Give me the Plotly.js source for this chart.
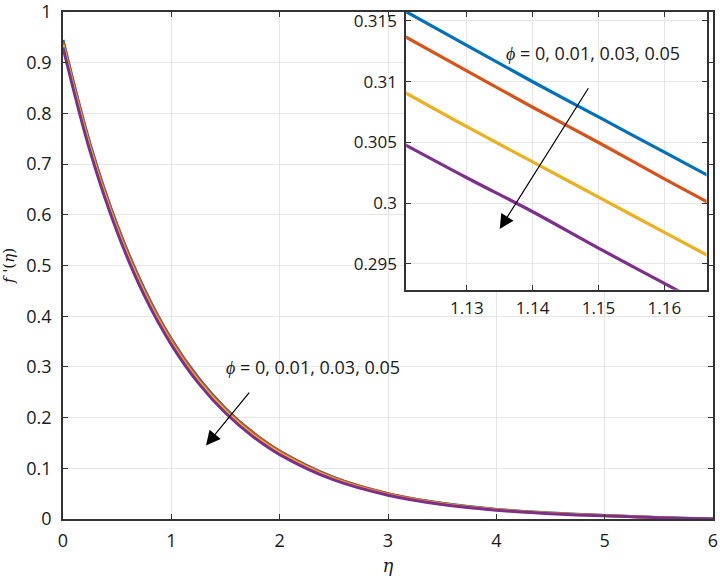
<!DOCTYPE html>
<html>
<head>
<meta charset="utf-8">
<script src="https://cdn.plot.ly/plotly-3.0.1.min.js"></script>
<style>body{margin:0;background:#fff}</style>
</head>
<body>
<div id="chart" style="width:720px;height:583px"></div>
<script>
// eta values
eta = [0, 0.25, 0.5, 0.75, 1.0, 1.25, 1.5, 1.75, 2.0, 2.5, 3.0, 3.5, 4.0, 4.5, 5.0, 5.5, 6.0];
phi0  = [0.945, 0.740, 0.580, 0.454, 0.355, 0.278, 0.218, 0.171, 0.134, 0.082, 0.050, 0.031, 0.019, 0.0116, 0.0071, 0.0028, 0];
phi01 = [0.940, 0.736, 0.577, 0.451, 0.353, 0.276, 0.216, 0.170, 0.133, 0.081, 0.050, 0.0305, 0.0188, 0.0114, 0.0070, 0.0027, 0];
phi03 = [0.935, 0.731, 0.571, 0.446, 0.348, 0.272, 0.213, 0.166, 0.130, 0.079, 0.048, 0.0296, 0.018, 0.011, 0.0067, 0.0026, 0];
phi05 = [0.930, 0.725, 0.566, 0.441, 0.344, 0.268, 0.209, 0.163, 0.127, 0.077, 0.047, 0.0286, 0.0174, 0.0106, 0.0064, 0.0025, 0];
mainTicksX = [0, 1, 2, 3, 4, 5, 6];
mainTicksY = [0, 0.1, 0.2, 0.3, 0.4, 0.5, 0.6, 0.7, 0.8, 0.9, 1];
mainLabelsY = ['0', '0.1', '0.2', '0.3', '0.4', '0.5', '0.6', '0.7', '0.8', '0.9', '1'];

// zoomed inset values
etaZoom = [1.12, 1.13, 1.14, 1.15, 1.16, 1.17];
zoom0  = [0.3160, 0.3130, 0.3100, 0.3071, 0.3042, 0.3013];
zoom01 = [0.3139, 0.3109, 0.3079, 0.3050, 0.3020, 0.2991];
zoom03 = [0.3093, 0.3063, 0.3034, 0.3005, 0.2976, 0.2947];
zoom05 = [0.3050, 0.3021, 0.2993, 0.2963, 0.2934, 0.2905];
zoomTicksX = [1.13, 1.14, 1.15, 1.16];
zoomLabelsX = ['1.13', '1.14', '1.15', '1.16'];
zoomTicksY = [0.295, 0.3, 0.305, 0.31, 0.315];
zoomLabelsY = ['0.295', '0.3', '0.305', '0.31', '0.315'];

colors = ['#0072BD', '#D95319', '#EDB120', '#7E2F8E'];
phiLabel = '<i>ϕ</i> = 0, 0.01, 0.03, 0.05';

function makeTrace(x, y, c, ax, w){
    return {
        x: x, y: y,
        xaxis: ax == 2 ? 'x2' : 'x',
        yaxis: ax == 2 ? 'y2' : 'y',
        type: 'scatter', mode: 'lines',
        line: {color: c, width: w, shape: 'spline'},
        showlegend: false, hoverinfo: 'skip'
    };
}

function makeChart(){
    var mainY = [phi0, phi01, phi03, phi05];
    var zoomY = [zoom0, zoom01, zoom03, zoom05];
    var data = [];
    for(var i = 0; i < 4; i++){
        data.push(makeTrace(eta, mainY[i], colors[i], 1, 3));
    }
    for(var i = 0; i < 4; i++){
        data.push(makeTrace(etaZoom, zoomY[i], colors[i], 2, 3.2));
    }
    var axisStyle = {
        showgrid: true,
        gridcolor: '#e6e6e6',
        gridwidth: 1,
        zeroline: false,
        showline: true,
        mirror: 'ticks',
        linecolor: '#333333',
        linewidth: 1.5,
        ticks: 'inside',
        ticklen: 5,
        tickcolor: '#333333',
        ticklabeloverflow: 'allow',
        tickfont: {family: 'Open Sans', size: 18, color: '#1a1a1a'}
    };
    var layout = {
        width: 720, height: 583,
        margin: {l: 63, r: 7, t: 12, b: 64},
        paper_bgcolor: '#ffffff',
        plot_bgcolor: '#ffffff',
        xaxis: Object.assign({}, axisStyle, {
            domain: [0, 1], range: [0, 6],
            tickvals: mainTicksX, ticklabelstandoff: 5,
            title: {text: '<i>η</i>', font: {family: 'DejaVu Serif', size: 18, color: '#1a1a1a'}, standoff: 8}
        }),
        yaxis: Object.assign({}, axisStyle, {
            domain: [0, 1], range: [0, 1],
            tickvals: mainTicksY, ticktext: mainLabelsY, ticklabelstandoff: 6,
            title: {text: "<i>f</i> '(<i>η</i>)", font: {family: 'DejaVu Serif', size: 15, color: '#1a1a1a'}, standoff: 8}
        }),
        xaxis2: Object.assign({}, axisStyle, {
            anchor: 'y2', domain: [0.528, 0.99], range: [1.1208, 1.1664],
            tickvals: zoomTicksX, ticktext: zoomLabelsX, ticklabelstandoff: 2,
            tickfont: {family: 'Open Sans', size: 17, color: '#1a1a1a'}
        }),
        yaxis2: Object.assign({}, axisStyle, {
            anchor: 'x2', domain: [0.452, 1.0], range: [0.29287, 0.31574],
            tickvals: zoomTicksY, ticktext: zoomLabelsY, ticklabelstandoff: 4,
            tickfont: {family: 'Open Sans', size: 17, color: '#1a1a1a'}
        }),
        annotations: [
            {x: 2.31, y: 0.299, xref: 'x', yref: 'y', text: phiLabel, showarrow: false,
             font: {family: 'Open Sans', size: 18, color: '#1a1a1a'}},
            {x: 1.32, y: 0.145, ax: 1.73, ay: 0.252, xref: 'x', yref: 'y', axref: 'x', ayref: 'y',
             text: '', showarrow: true, arrowhead: 2, arrowsize: 2.4, arrowwidth: 1.2, arrowcolor: '#000'},
            {x: 1.1491, y: 0.31238, xref: 'x2', yref: 'y2', text: phiLabel, showarrow: false,
             font: {family: 'Open Sans', size: 18, color: '#1a1a1a'}},
            {x: 1.135, y: 0.29787, ax: 1.1486, ay: 0.30959, xref: 'x2', yref: 'y2', axref: 'x2', ayref: 'y2',
             text: '', showarrow: true, arrowhead: 2, arrowsize: 2.4, arrowwidth: 1.2, arrowcolor: '#000'}
        ]
    };
    Plotly.newPlot('chart', data, layout, {displayModeBar: false});
}

makeChart();
</script>
</body>
</html>
